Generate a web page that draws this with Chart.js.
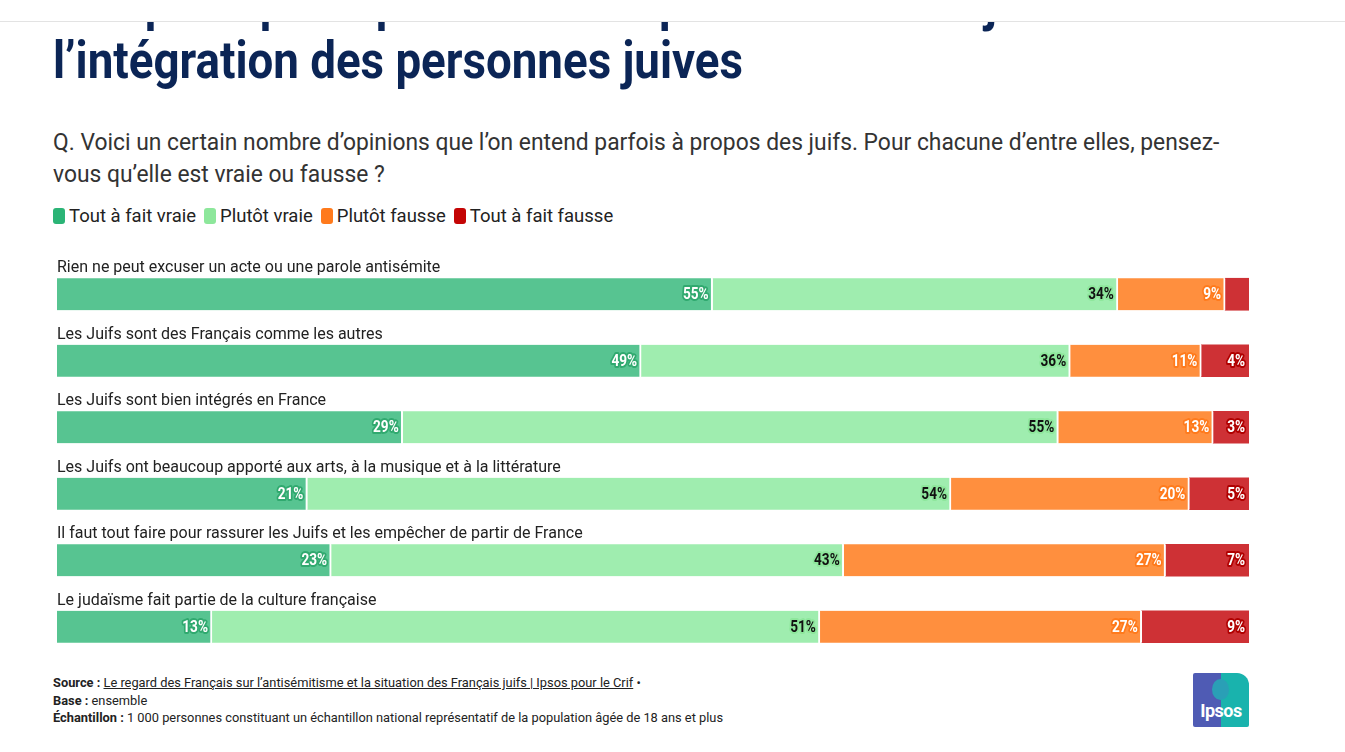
<!DOCTYPE html>
<html lang="fr">
<head>
<meta charset="utf-8">
<script src="https://cdn.jsdelivr.net/npm/chart.js@4.4.1/dist/chart.umd.min.js"></script>
<style>
    html, body { margin: 0; padding: 0; background: #fff; }
    body { width: 1345px; height: 752px; position: relative; overflow: hidden; font-family: Roboto, sans-serif; color: #222; }
    .topbar { position: absolute; left: 0; top: 0; width: 1345px; height: 21px; background: #fff; border-bottom: 1px solid #e3e3e3; z-index: 2; }
    .title { position: absolute; left: 53px; top: -26px; margin: 0; font-family: Roboto, sans-serif; font-weight: 700; font-size: 52px; line-height: 58px; color: #0b2556; white-space: nowrap; transform-origin: 0 0; }
    .question { position: absolute; left: 53px; top: 126px; width: 1275px; margin: 0; font-size: 24.5px; line-height: 32px; color: #333; transform-origin: 0 0; transform: scaleX(0.932); }
    .legend { position: absolute; left: 53px; top: 205px; display: flex; font-size: 18.5px; line-height: 22px; color: #222; }
    .legend span { display: flex; align-items: center; margin-right: 8px; }
    .legend i { display: inline-block; width: 12px; height: 16px; border-radius: 3px; margin-right: 4px; }
    .chart-box { position: absolute; left: 57px; top: 240px; width: 1192px; height: 420px; }
    .notes { position: absolute; left: 53px; top: 674px; font-size: 13.5px; line-height: 17.5px; color: #222; transform-origin: 0 0; transform: scaleX(0.95); white-space: nowrap; }
    .notes b { font-weight: 700; }
    .logo { position: absolute; left: 1193px; top: 673px; width: 56px; height: 54px; overflow: hidden; border-radius: 2px 12px 2px 2px; }
    .logo .l { position: absolute; left: 0; top: 0; width: 28px; height: 54px; background: #4f5bb4; }
    .logo .r { position: absolute; left: 28px; top: 0; width: 28px; height: 54px; background: #19b3ad; }
    .logo .head { position: absolute; left: 19px; top: 6px; width: 17px; height: 21px; border-radius: 50%; background: #2a9fb6; }
    .logo .txt { position: absolute; left: 0; width: 56px; top: 27px; text-align: center; color: #fff; font-weight: 700; font-size: 18px; letter-spacing: -0.5px; }
</style>
</head>
<body>
<div class="topbar"></div>
<h1 class="title" id="title">Une perception positive de la place et du rôle juif et de<br><span id="titleLine">l’intégration des personnes juives</span></h1>
<p class="question">Q. Voici un certain nombre d’opinions que l’on entend parfois à propos des juifs. Pour chacune d’entre elles, pensez-vous qu’elle est vraie ou fausse ?</p>
<div class="legend" id="legend"></div>
<div class="chart-box"><canvas id="chart"></canvas></div>
<div class="notes">
    <div><b>Source :</b> <u>Le regard des Français sur l’antisémitisme et la situation des Français juifs | Ipsos pour le Crif</u> •</div>
    <div><b>Base :</b> ensemble</div>
    <div><b>Échantillon :</b> 1 000 personnes constituant un échantillon national représentatif de la population âgée de 18 ans et plus</div>
</div>
<div class="logo"><div class="l"></div><div class="r"></div><div class="head"></div><div class="txt">Ipsos</div></div>

<script>
const categories = [
    "Rien ne peut excuser un acte ou une parole antisémite",
    "Les Juifs sont des Français comme les autres",
    "Les Juifs sont bien intégrés en France",
    "Les Juifs ont beaucoup apporté aux arts, à la musique et à la littérature",
    "Il faut tout faire pour rassurer les Juifs et les empêcher de partir de France",
    "Le judaïsme fait partie de la culture française",
];
const seriesNames = ["Tout à fait vraie", "Plutôt vraie", "Plutôt fausse", "Tout à fait fausse"];
const toutAFaitVraie = [55, 49, 29, 21, 23, 13];
const plutotVraie = [34, 36, 55, 54, 43, 51];
const plutotFausse = [9, 11, 13, 20, 27, 27];
const toutAFaitFausse = [2, 4, 3, 5, 7, 9];

const barColors = ["#57c491", "#9fedaf", "#ff8f3e", "#ce3135"];
const legendColors = ["#2bb476", "#8de79b", "#ff7a1c", "#c40505"];
const outlineColors = ["#30a96f", "#8ee79c", "#ff7a1c", "#b00000"];
const labelColors = ["#ffffff", "#111111", "#ffffff", "#ffffff"];

// squeeze the title to the condensed width of the original
const titleLine = document.getElementById("titleLine");
const titleScale = 690 / titleLine.getBoundingClientRect().width;
document.getElementById("title").style.transform = `scaleX(${titleScale})`;

const legend = document.getElementById("legend");
seriesNames.forEach((name, i) => {
    const item = document.createElement("span");
    item.innerHTML = `<i style="background:${legendColors[i]}"></i>${name}`;
    legend.appendChild(item);
});

const barLabels = {
    id: "barLabels",
    afterDatasetsDraw(chart) {
        const ctx = chart.ctx;
        chart.data.datasets.forEach((dataset, di) => {
            chart.getDatasetMeta(di).data.forEach((bar, i) => {
                const value = dataset.data[i];
                if (value < 3) return;
                const text = value + "%";
                ctx.save();
                ctx.translate(bar.x - 4, bar.y + 1);
                ctx.scale(0.85, 1);
                ctx.font = "bold 16px Roboto, sans-serif";
                ctx.textAlign = "right";
                ctx.textBaseline = "middle";
                ctx.lineJoin = "round";
                ctx.lineWidth = 4;
                ctx.strokeStyle = outlineColors[di];
                ctx.strokeText(text, 0, 0);
                ctx.fillStyle = labelColors[di];
                ctx.fillText(text, 0, 0);
                ctx.restore();
            });
        });
    },
};

const categoryTitles = {
    id: "categoryTitles",
    afterDraw(chart) {
        const ctx = chart.ctx;
        const yScale = chart.scales.y;
        ctx.save();
        ctx.font = "16px Roboto, sans-serif";
        ctx.fillStyle = "#222";
        ctx.textAlign = "left";
        ctx.textBaseline = "alphabetic";
        categories.forEach((label, i) => {
            const y = yScale.getPixelForValue(i) - 16 - 6;
            ctx.fillText(label, chart.chartArea.left, y);
        });
        ctx.restore();
    },
};

const datasets = [toutAFaitVraie, plutotVraie, plutotFausse, toutAFaitFausse].map((data, i) => ({
    label: seriesNames[i],
    data,
    backgroundColor: barColors[i],
    borderColor: "#ffffff",
    borderWidth: { left: 0, top: 0, bottom: 0, right: i < 3 ? 2 : 0 },
    borderSkipped: false,
    barThickness: 32,
}));

new Chart(document.getElementById("chart"), {
    type: "bar",
    data: { labels: categories, datasets },
    options: {
        indexAxis: "y",
        responsive: true,
        maintainAspectRatio: false,
        animation: false,
        layout: { padding: { top: 21, bottom: 0, left: 0, right: 0 } },
        plugins: {
            legend: { display: false },
            tooltip: { enabled: false },
        },
        scales: {
            x: { stacked: true, min: 0, max: 100, display: false },
            y: { stacked: true, display: false },
        },
    },
    plugins: [barLabels, categoryTitles],
});
</script>
</body>
</html>
